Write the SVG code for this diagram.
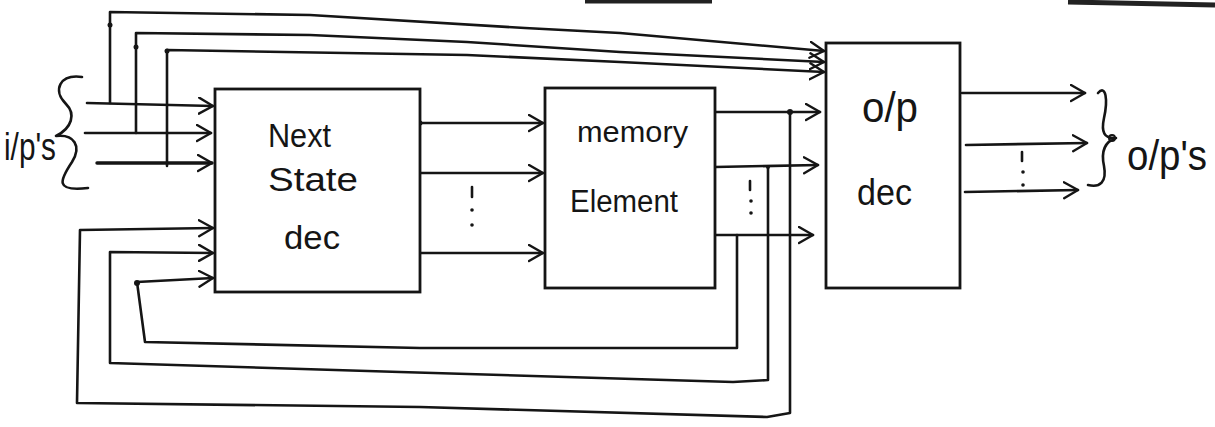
<svg xmlns="http://www.w3.org/2000/svg" width="1215" height="427" viewBox="0 0 1215 427">
<style>
.w{fill:none;stroke:#151515;stroke-width:2.6;stroke-linejoin:round;stroke-linecap:round}
.a{marker-end:url(#arr)}
.box{fill:#fff;stroke:#151515;stroke-width:2.8}
.t{font-family:"Liberation Sans","DejaVu Sans",sans-serif;fill:#151515}
.d{fill:#151515}
</style>
<defs>
<marker id="arr" markerUnits="userSpaceOnUse" markerWidth="18" markerHeight="20" refX="15" refY="9" orient="auto" viewBox="0 0 18 20">
<path d="M1,1 L15,9 L1,17" fill="none" stroke="#151515" stroke-width="2.4" stroke-linecap="round" stroke-linejoin="round"/>
</marker>
</defs>
<rect width="1215" height="427" fill="#fff"/>
<path d="M585,1 L712,1 M1068,2 L1215,5" stroke="#222" stroke-width="5" fill="none"/>

<g id="connectors">
<!-- inputs -->
<path class="w a" d="M87,103 L213,106"/>
<path class="w a" d="M85,133 L211,133"/>
<path class="w a" d="M97,163 L212,163" style="stroke-width:3.4"/>
<!-- input taps to o/p dec -->
<path class="w a" d="M110,103 L110,12 L310,15 L525,28 L620,33 L824,51"/>
<path class="w a" d="M136,133 L136,33 L310,35 L467,42 L620,52 L824,62"/>
<path class="w a" d="M167,166 L167,50 L467,55 L620,62 L824,72"/>
<!-- next state -> memory -->
<path class="w a" d="M420,123 L543,123"/>
<path class="w a" d="M420,173 L543,173"/>
<path class="w a" d="M420,253 L543,253"/>
<!-- memory -> o/p dec -->
<path class="w a" d="M715,112 L820,112"/>
<path class="w a" d="M715,167 L818,165"/>
<path class="w a" d="M715,235 L813,235"/>
<!-- feedback loops -->
<path class="w a" d="M737,235 L737,348 L420,348 L145,342 L137,282 L213,278"/>
<path class="w a" d="M768,167 L768,380 L733,382 L400,372 L110,363 L110,252 L213,253"/>
<path class="w a" d="M790,112 L790,413 L767,417 L420,407 L77,403 L80,230 L213,228"/>
<!-- o/p dec outputs -->
<path class="w a" d="M962,93 L1085,93"/>
<path class="w a" d="M966,145 L1087,143"/>
<path class="w a" d="M965,192 L1078,190"/>
<!-- junction dots -->
<circle class="d" cx="790" cy="112" r="3"/>
<circle class="d" cx="768" cy="167" r="2"/>
<circle class="d" cx="420" cy="123" r="2.5"/>
<circle class="d" cx="137" cy="283" r="3"/>
<circle class="d" cx="110" cy="25" r="2.5"/>
<circle class="d" cx="136" cy="47" r="2.5"/>
<circle class="d" cx="167" cy="51" r="2.5"/>
</g>

<g id="next-state-dec">
<rect class="box" x="215" y="89" width="205" height="203"/>
<text class="t" x="268" y="147" font-size="34" textLength="63" lengthAdjust="spacingAndGlyphs">Next</text>
<text class="t" x="268" y="191" font-size="34" textLength="90" lengthAdjust="spacingAndGlyphs">State</text>
<text class="t" x="284" y="249" font-size="34" textLength="56" lengthAdjust="spacingAndGlyphs">dec</text>
</g>

<g id="memory-element">
<rect class="box" x="545" y="88" width="170" height="200"/>
<text class="t" x="577" y="142" font-size="29" textLength="111" lengthAdjust="spacingAndGlyphs">memory</text>
<text class="t" x="570" y="212" font-size="31" textLength="108" lengthAdjust="spacingAndGlyphs">Element</text>
</g>

<g id="op-dec">
<rect class="box" x="826" y="43" width="134" height="245"/>
<text class="t" x="862" y="122" font-size="42" textLength="56" lengthAdjust="spacingAndGlyphs">o/p</text>
<text class="t" x="857" y="205" font-size="36" textLength="55" lengthAdjust="spacingAndGlyphs">dec</text>
</g>

<g id="dots">
<line class="w" x1="472" y1="187" x2="472" y2="197"/>
<circle class="d" cx="472" cy="210" r="1.8"/>
<circle class="d" cx="472" cy="225" r="1.8"/>
<line class="w" x1="750" y1="181" x2="750" y2="190"/>
<circle class="d" cx="751" cy="201" r="1.8"/>
<circle class="d" cx="751" cy="213" r="1.8"/>
<line class="w" x1="1022" y1="152" x2="1022" y2="161"/>
<circle class="d" cx="1023" cy="172" r="1.8"/>
<circle class="d" cx="1023" cy="185" r="1.8"/>
</g>

<g id="inputs-label">
<path class="w" d="M82,77 C60,74 52,90 66,104 C76,114 72,128 56,136 C74,134 82,146 72,162 C60,180 54,192 88,188"/>
<text class="t" x="4" y="160" font-size="38" textLength="52" lengthAdjust="spacingAndGlyphs">i/p's</text>
</g>

<g id="outputs-label">
<path class="w" d="M1098,93 C1106,84 1108,100 1104,118 C1101,132 1104,139 1116,138 C1104,142 1101,152 1104,166 C1107,182 1100,188 1088,185"/>
<circle cx="1112" cy="138" r="3" fill="none" stroke="#151515" stroke-width="2"/>
<text class="t" x="1127" y="170" font-size="42" textLength="80" lengthAdjust="spacingAndGlyphs">o/p's</text>
</g>
</svg>
